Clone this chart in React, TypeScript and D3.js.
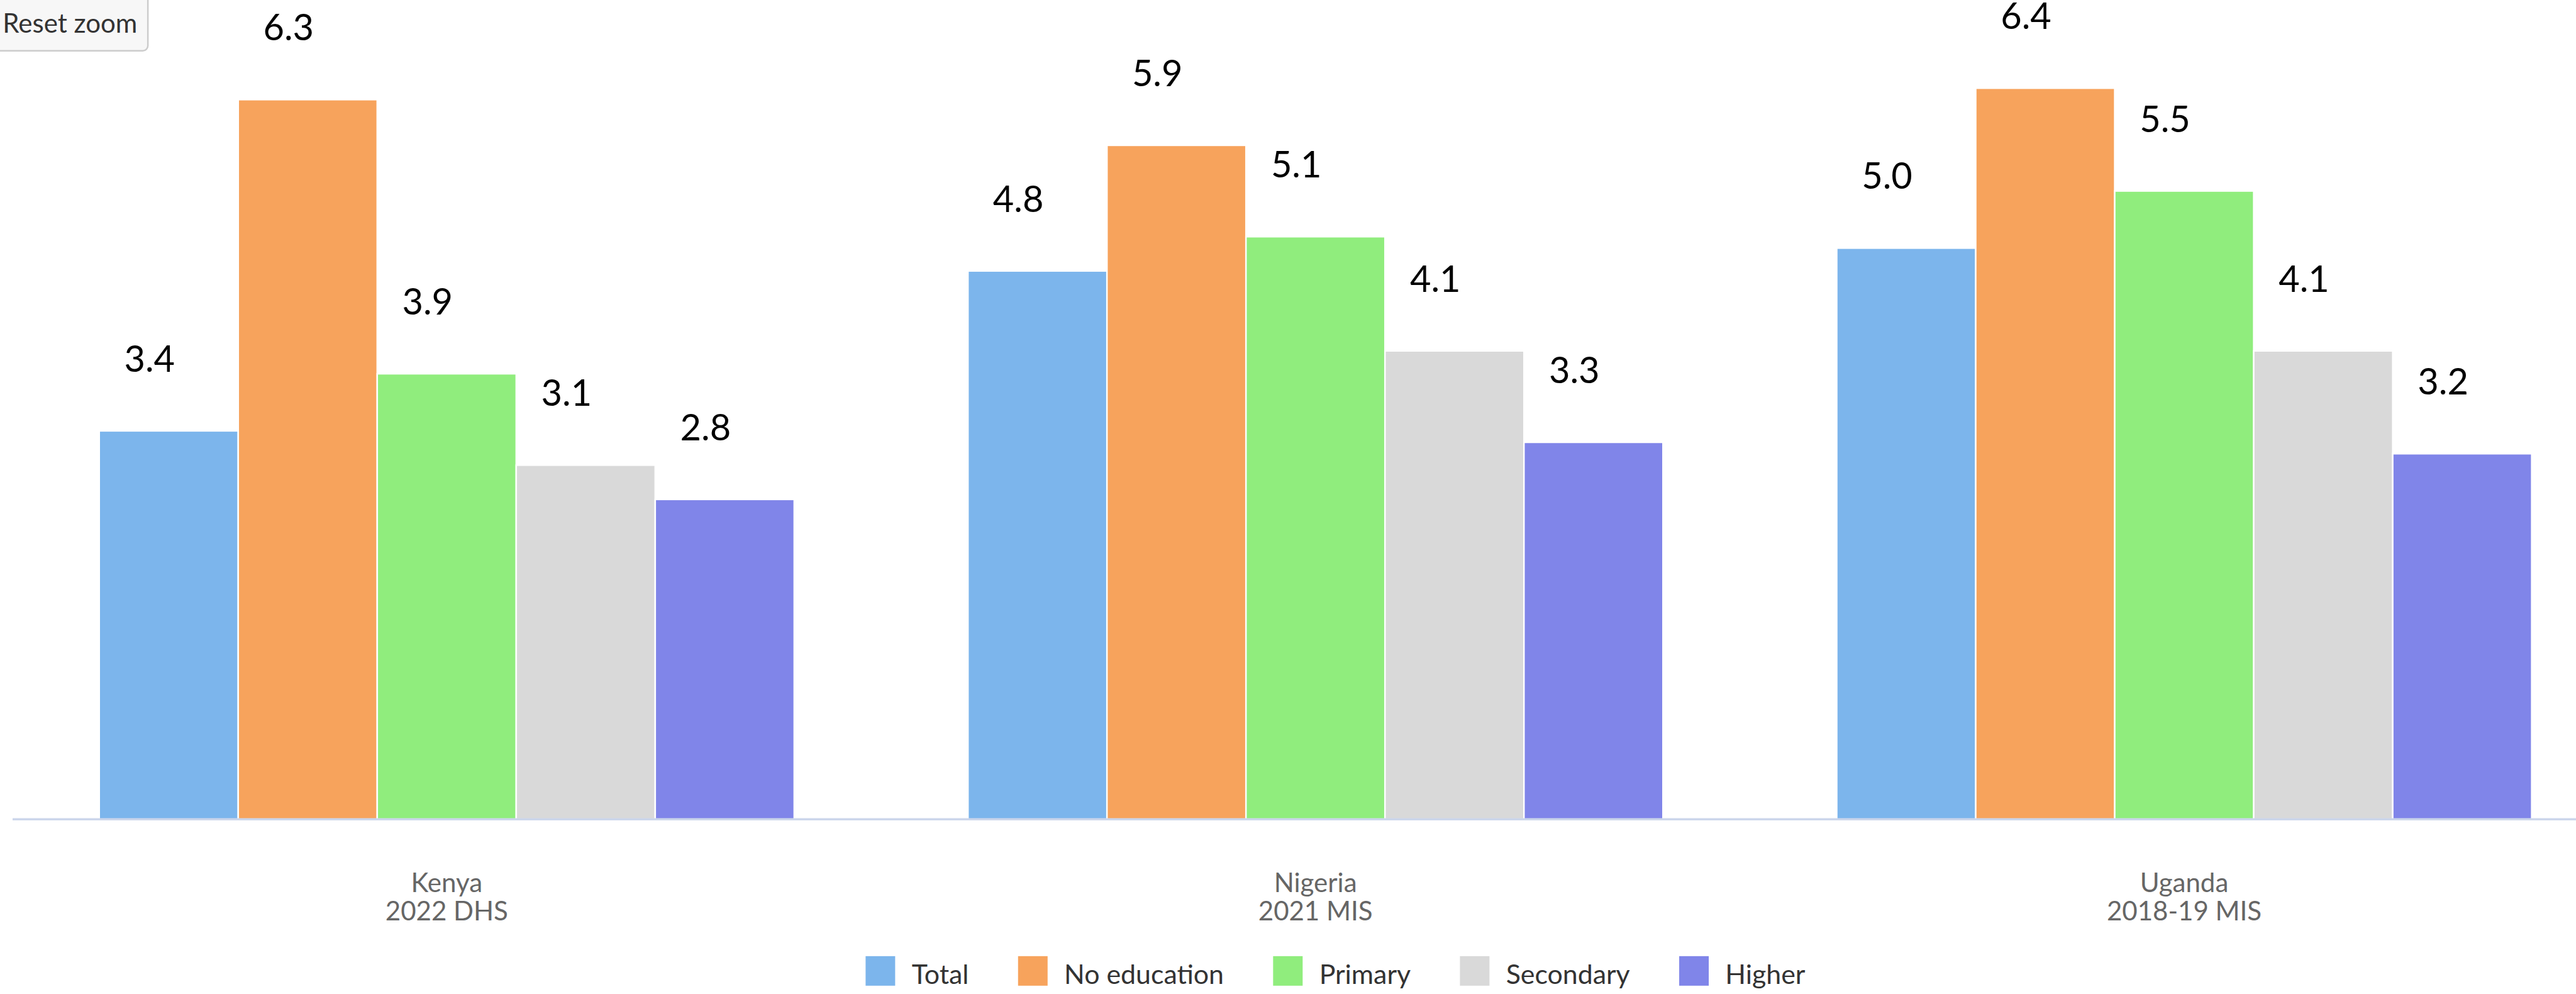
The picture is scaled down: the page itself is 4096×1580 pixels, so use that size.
import React, { useEffect, useRef } from "react";
import * as d3 from "d3";

const countries = ["Kenya", "Nigeria", "Uganda"];
const surveys = ["2022 DHS", "2021 MIS", "2018-19 MIS"];
const seriesNames = ["Total", "No education", "Primary", "Secondary", "Higher"];
const seriesColors = ["#7cb5ec", "#f7a35c", "#90ed7d", "#d9d9d9", "#8085e9"];
const totalValues = [3.4, 4.8, 5.0];
const noEducationValues = [6.3, 5.9, 6.4];
const primaryValues = [3.9, 5.1, 5.5];
const secondaryValues = [3.1, 4.1, 4.1];
const higherValues = [2.8, 3.3, 3.2];
const seriesValues = [totalValues, noEducationValues, primaryValues, secondaryValues, higherValues];

const VW = 4969;
const VH = 1917;
const FONT = "Lato, 'Open Sans', sans-serif";

export default function App() {
  const ref = useRef<SVGSVGElement | null>(null);

  useEffect(() => {
    const svg = d3.select(ref.current);
    svg.selectAll("*").remove();

    const plotLeft = 23.5;
    const bandW = 1676;
    const baseY = 1580;
    const unit = 220.3;

    const x0 = d3.scaleBand<string>().domain(countries).range([plotLeft, plotLeft + bandW * countries.length]).paddingInner(0).paddingOuter(0);
    const x1 = d3.scaleBand<string>().domain(seriesNames).range([bandW * 0.1, bandW * 0.9]).padding(0);
    const y = d3.scaleLinear().domain([0, 7]).range([baseY, baseY - 7 * unit]);

    // Reset zoom button
    const btn = svg.append("g");
    btn.append("rect").attr("x", -20).attr("y", -20).attr("width", 305).attr("height", 118).attr("rx", 10)
      .attr("fill", "#f7f7f7").attr("stroke", "#cccccc").attr("stroke-width", 3);
    btn.append("text").attr("x", 5).attr("y", 63).attr("font-family", FONT).attr("font-size", 51)
      .attr("fill", "#333333").text("Reset zoom");

    // bars
    const rows = countries.map((c, i) => ({ c, i }));
    const groups = svg.append("g").selectAll("g").data(rows).join("g")
      .attr("transform", (d) => `translate(${x0(d.c)},0)`);

    seriesNames.forEach((s, si) => {
      groups.append("rect")
        .attr("x", x1(s)!)
        .attr("y", (d) => y(seriesValues[si][d.i]))
        .attr("width", x1.bandwidth())
        .attr("height", (d) => baseY - y(seriesValues[si][d.i]))
        .attr("fill", seriesColors[si])
        .attr("stroke", "#ffffff")
        .attr("stroke-width", 3);
    });

    // axis line
    svg.append("line").attr("x1", 24).attr("x2", VW + 50).attr("y1", baseY).attr("y2", baseY)
      .attr("stroke", "#ccd6eb").attr("stroke-width", 4);

    // data labels
    seriesNames.forEach((s, si) => {
      groups.append("text")
        .attr("x", x1(s)! + x1.bandwidth() / 2 - 37)
        .attr("y", (d) => y(seriesValues[si][d.i]) - 114)
        .attr("text-anchor", "middle")
        .attr("font-family", FONT)
        .attr("font-size", 70)
        .attr("fill", "#000000")
        .text((d) => d3.format(".1f")(seriesValues[si][d.i]));
    });

    // category labels
    const cat = svg.append("g").selectAll("text").data(rows).join("text")
      .attr("x", (d) => x0(d.c)! + bandW / 2)
      .attr("y", 1720)
      .attr("text-anchor", "middle")
      .attr("font-family", FONT)
      .attr("font-size", 51)
      .attr("fill", "#666666");
    cat.append("tspan").attr("x", (d) => x0(d.c)! + bandW / 2).attr("y", 1720).text((d) => d.c);
    cat.append("tspan").attr("x", (d) => x0(d.c)! + bandW / 2).attr("y", 1775).text((d) => surveys[d.i]);

    // legend
    const legend = svg.append("g");
    const sym = 57;
    const textGap = 32;
    const itemDist = 95;
    const items = seriesNames.map((s, si) => {
      const g = legend.append("g");
      g.append("rect").attr("x", 0).attr("y", 1844).attr("width", sym).attr("height", sym).attr("fill", seriesColors[si]);
      const t = g.append("text").attr("x", sym + textGap).attr("y", 1897).attr("font-family", FONT)
        .attr("font-size", 52).attr("fill", "#333333").text(s);
      const w = (t.node() as SVGTextElement).getComputedTextLength();
      return { g, w: sym + textGap + w };
    });
    const total = d3.sum(items, (d) => d.w) + itemDist * (items.length - 1);
    let cx = 2576 - total / 2;
    items.forEach((it) => {
      it.g.attr("transform", `translate(${cx},0)`);
      cx += it.w + itemDist;
    });
  }, []);

  return (
    <div style={{ position: "absolute", left: 0, top: 0, width: 4096, height: 1580, background: "#ffffff" }}>
      <svg ref={ref} width={4096} height={1580} viewBox={`0 0 ${VW} ${VH}`} style={{ display: "block" }} />
    </div>
  );
}
